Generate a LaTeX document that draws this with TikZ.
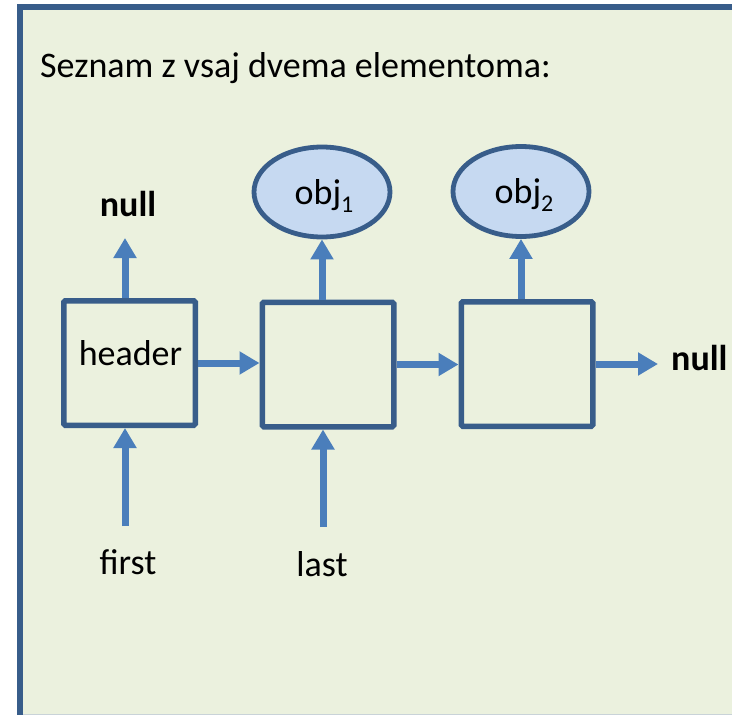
\documentclass[tikz,border=0pt]{standalone}
\usepackage{fontspec}
\setmainfont{Carlito}
\usetikzlibrary{arrows.meta,shapes.geometric}

\definecolor{panelbg}{HTML}{EBF1DE}
\definecolor{frameblue}{HTML}{385D8A}
\definecolor{ptrblue}{HTML}{4A7EBB}
\definecolor{objfill}{HTML}{C6D9F1}
\definecolor{edgegrey}{HTML}{C9D3D8}

\newcommand{\bigtext}{\fontsize{36}{43}\selectfont}
\newcommand{\subidx}[1]{\raisebox{-8.5pt}{\fontsize{24}{26}\selectfont #1}}

\begin{document}
\begin{tikzpicture}[x=1pt,y=-1pt,
  cell/.style={draw=frameblue, line width=5.5pt, rounded corners=1.5pt,
    minimum width=131.5pt, minimum height=124.5pt, inner sep=0pt},
  objnode/.style={ellipse, draw=frameblue, fill=objfill, line width=4.8pt,
    minimum width=136pt, minimum height=90pt, inner sep=0pt},
  ptr/.style={draw=ptrblue, line width=7pt,
    -{Triangle[width=22pt,length=20pt]}},
  lbl/.style={inner sep=0pt, anchor=base, font=\bigtext}]

  \useasboundingbox (0,0) rectangle (732,715);
  \begin{scope}
    \clip (0,0) rectangle (732,715);
    % panel background and its visible border
    \fill[panelbg] (17,4) rectangle (745,725);
    \draw[edgegrey, line width=1.5pt] (23,714.5) -- (745,714.5);
    \draw[frameblue, line width=6pt, line join=miter]
      (20,725) -- (20,7) -- (745,7);
  \end{scope}

  % title
  \node[inner sep=0pt, anchor=base west, font=\bigtext] (title) at (40,77)
    {Seznam z vsaj dvema elementoma:};

  % list cells
  \node[cell] (hdr) at (129.5,363) {};
  \node[cell] (c1) at (328,364.5) {};
  \node[cell] (c2) at (527,364) {};
  \node[lbl] (hdrtxt) at (130.5,365) {header};

  % referenced objects
  \node[objnode] (o1) at (322,192) {};
  \node[objnode] (o2) at (521,191.5) {};
  \node[lbl] (o1txt) at (324,204) {obj\subidx{1}};
  \node[lbl] (o2txt) at (524,203) {obj\subidx{2}};

  % null targets
  \node[lbl, font=\bigtext\bfseries] (nulltop) at (128,216) {null};
  \coordinate (uptip) at (125,238);
  \node[lbl, font=\bigtext\bfseries, anchor=base west] (nullright) at (671,370) {null};
  \coordinate (righttip) at (658,364);

  % external references
  \node[lbl] (first) at (128,574) {first};
  \node[lbl] (last) at (322,576) {last};
  \coordinate (firsttail) at (125,526);
  \coordinate (lasttail) at (323,527);

  % pointers
  \draw[ptr] (uptip |- hdr.north) -- (uptip);
  \draw[ptr] (o1.south |- c1.north) -- (o1.south);
  \draw[ptr] (o2.south |- c2.north) -- (o2.south);
  \draw[ptr] (hdr.east) -- (c1.west |- hdr.east);
  \draw[ptr] (c1.east) -- (c2.west |- c1.east);
  \draw[ptr] (c2.east) -- (righttip);
  \draw[ptr] (firsttail) -- (firsttail |- hdr.south);
  \draw[ptr] (lasttail) -- (lasttail |- c1.south);
\end{tikzpicture}
\end{document}
